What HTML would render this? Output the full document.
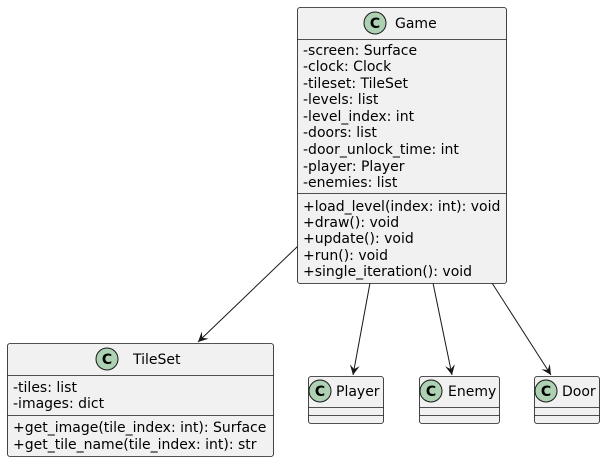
<!DOCTYPE html>
<html><head><style>body{margin:0;background:#fff}</style></head><body>
<svg width="605" height="462" xmlns="http://www.w3.org/2000/svg" font-family="DejaVu Sans, Liberation Sans, sans-serif" font-size="14">
<defs><marker id="a" markerWidth="12" markerHeight="12" refX="10" refY="5" orient="auto" markerUnits="userSpaceOnUse"><path d="M0,0 L10,5 L0,10 L4,5 Z" fill="#181818"/></marker></defs>
<g stroke="#181818" stroke-width="1" fill="none">
<line x1="298" y1="246" x2="198" y2="342" marker-end="url(#a)"/>
<line x1="370" y1="283" x2="353" y2="375" marker-end="url(#a)"/>
<line x1="433" y1="283" x2="452" y2="375" marker-end="url(#a)"/>
<line x1="492" y1="283" x2="551" y2="375" marker-end="url(#a)"/>
</g>
<g stroke="#181818" stroke-width="0.8" fill="#F1F1F1">
<rect x="297.5" y="7.5" width="209" height="276" rx="2.5"/>
<rect x="7.5" y="343.5" width="266" height="113" rx="2.5"/>
<rect x="308.5" y="376.5" width="75" height="47" rx="2.5"/>
<rect x="419.5" y="376.5" width="80" height="47" rx="2.5"/>
<rect x="534.5" y="376.5" width="65" height="47" rx="2.5"/>
<line x1="297.5" y1="39.5" x2="506.5" y2="39.5"/>
<line x1="297.5" y1="193.5" x2="506.5" y2="193.5"/>
<line x1="7.5" y1="375.5" x2="273.5" y2="375.5"/>
<line x1="7.5" y1="415.5" x2="273.5" y2="415.5"/>
<line x1="308.5" y1="407.5" x2="383.5" y2="407.5"/><line x1="308.5" y1="415.5" x2="383.5" y2="415.5"/>
<line x1="419.5" y1="407.5" x2="499.5" y2="407.5"/><line x1="419.5" y1="415.5" x2="499.5" y2="415.5"/>
<line x1="534.5" y1="407.5" x2="599.5" y2="407.5"/><line x1="534.5" y1="415.5" x2="599.5" y2="415.5"/>
</g>
<g fill="#ADD1B2" stroke="#181818" stroke-width="1">
<circle cx="375" cy="23" r="11"/><circle cx="107" cy="359" r="11"/>
<circle cx="320" cy="391" r="11"/><circle cx="431" cy="391" r="11"/><circle cx="546" cy="391" r="11"/>
</g>
<g font-weight="bold" font-size="14" text-anchor="middle">
<text x="375" y="28">C</text><text x="107" y="364">C</text><text x="320" y="396">C</text><text x="431" y="396">C</text><text x="546" y="396">C</text>
</g>
<g fill="#000">
<text x="395" y="28">Game</text>
<text x="133" y="364">TileSet</text>
<text x="336" y="396">Player</text>
<text x="448" y="396">Enemy</text>
<text x="562" y="396">Door</text>
<text x="303" y="55">-screen: Surface</text>
<text x="303" y="71">-clock: Clock</text>
<text x="303" y="88">-tileset: TileSet</text>
<text x="303" y="104">-levels: list</text>
<text x="303" y="121">-level_index: int</text>
<text x="303" y="137">-doors: list</text>
<text x="303" y="154">-door_unlock_time: int</text>
<text x="303" y="171">-player: Player</text>
<text x="303" y="187">-enemies: list</text>
<text x="303" y="211">+load_level(index: int): void</text>
<text x="303" y="227">+draw(): void</text>
<text x="303" y="243">+update(): void</text>
<text x="303" y="260">+run(): void</text>
<text x="303" y="276">+single_iteration(): void</text>
<text x="13" y="392">-tiles: list</text>
<text x="13" y="408">-images: dict</text>
<text x="13" y="432">+get_image(tile_index: int): Surface</text>
<text x="13" y="449">+get_tile_name(tile_index: int): str</text>
</g>
</svg>
</body></html>
